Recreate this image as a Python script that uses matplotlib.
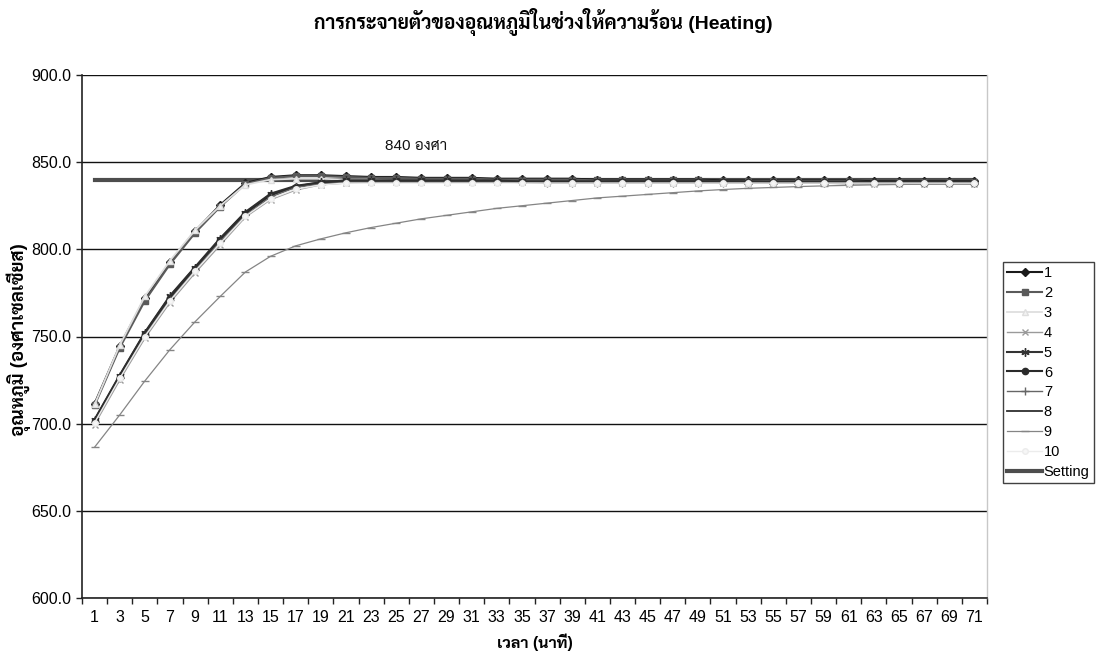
import matplotlib
matplotlib.use("Agg")
import matplotlib.pyplot as plt
import numpy as np

LATIN_THAI = ['Liberation Sans', 'Sarabun', 'Noto Sans Thai', 'DejaVu Sans']
plt.rcParams['font.family'] = LATIN_THAI

# time labels (minutes), one reading every 2 minutes
minutes = [str(m) for m in range(1, 72, 2)]

s1 = [711.5, 744.5, 772.0, 792.5, 810.5, 825.5, 838.0, 841.5, 842.5, 842.5, 842.0, 841.5,
      841.5, 841.0, 841.0, 841.0, 840.5, 840.5, 840.5, 840.5, 840.0, 840.0, 840.0, 840.0,
      840.0, 839.5, 839.5, 839.5, 839.5, 839.5, 839.5, 839.0, 839.0, 839.0, 839.0, 839.0]
s2 = [710.5, 743.5, 770.5, 791.5, 809.5, 824.5, 837.5, 841.0, 842.0, 842.0, 841.5, 841.0,
      841.0, 840.5, 840.5, 840.5, 840.0, 840.0, 840.0, 840.0, 839.5, 839.5, 839.5, 839.5,
      839.5, 839.0, 839.0, 839.0, 839.0, 839.0, 839.0, 838.5, 838.5, 838.5, 838.5, 838.5]
s3 = [711.0, 745.0, 773.0, 793.5, 811.0, 825.0, 837.0, 840.0, 840.5, 840.5, 840.0, 840.0,
      839.5, 839.5, 839.5, 839.5, 839.0, 839.0, 839.0, 839.0, 839.0, 838.5, 838.5, 838.5,
      838.5, 838.5, 838.5, 838.0, 838.0, 838.0, 838.0, 838.0, 838.0, 838.0, 838.0, 838.0]
s4 = [699.5, 725.0, 749.0, 769.5, 786.5, 802.5, 818.5, 828.5, 834.0, 837.0, 838.0, 838.5,
      838.5, 838.5, 838.5, 838.5, 838.5, 838.5, 838.0, 838.0, 838.0, 838.0, 838.0, 838.0,
      838.0, 838.0, 838.0, 838.0, 838.0, 838.0, 837.5, 837.5, 837.5, 837.5, 837.5, 837.5]
s5 = [702.0, 727.5, 752.0, 773.0, 789.5, 806.0, 821.0, 831.5, 836.0, 838.5, 839.5, 839.5,
      839.5, 839.5, 839.5, 839.5, 839.0, 839.0, 839.0, 839.0, 839.0, 839.0, 839.0, 839.0,
      839.0, 839.0, 838.5, 838.5, 838.5, 838.5, 838.5, 838.5, 838.5, 838.5, 838.5, 838.5]
s6 = [701.5, 727.0, 751.5, 772.0, 789.0, 805.5, 820.5, 831.0, 836.0, 838.0, 839.0, 839.0,
      839.0, 839.0, 839.0, 839.0, 839.0, 838.5, 838.5, 838.5, 838.5, 838.5, 838.5, 838.5,
      838.5, 838.5, 838.5, 838.5, 838.5, 838.5, 838.5, 838.5, 838.0, 838.0, 838.0, 838.0]
s7 = [701.0, 726.0, 750.5, 771.0, 788.0, 804.5, 819.5, 830.0, 835.5, 837.5, 838.5, 838.5,
      838.5, 838.5, 838.5, 838.5, 838.5, 838.5, 838.0, 838.0, 838.0, 838.0, 838.0, 838.0,
      838.0, 838.0, 838.0, 838.0, 838.0, 838.0, 838.0, 838.0, 838.0, 838.0, 838.0, 838.0]
s8 = [702.5, 728.0, 752.5, 773.5, 790.0, 806.5, 821.5, 832.0, 836.5, 838.5, 839.5, 839.5,
      839.5, 839.5, 839.5, 839.5, 839.5, 839.0, 839.0, 839.0, 839.0, 839.0, 839.0, 839.0,
      839.0, 839.0, 839.0, 838.5, 838.5, 838.5, 838.5, 838.5, 838.5, 838.5, 838.5, 838.5]
s9 = [686.5, 705.0, 724.5, 742.5, 758.5, 773.0, 787.0, 796.0, 802.0, 806.0, 809.5, 812.5,
      815.0, 817.5, 819.5, 821.5, 823.5, 825.0, 826.5, 828.0, 829.5, 830.5, 831.5, 832.5,
      833.5, 834.3, 835.0, 835.5, 836.0, 836.4, 836.7, 837.0, 837.2, 837.4, 837.5, 837.5]
s10 = [700.5, 726.0, 750.0, 770.5, 787.5, 803.5, 819.0, 829.0, 834.5, 837.0, 838.0, 838.0,
       838.0, 838.0, 838.0, 838.0, 838.0, 838.0, 838.0, 838.0, 838.0, 838.0, 838.0, 838.0,
       838.0, 838.0, 838.0, 838.0, 838.0, 838.0, 838.0, 838.0, 838.0, 838.0, 838.0, 838.0]
setting_temp = 840.0

series_names = ['1', '2', '3', '4', '5', '6', '7', '8', '9', '10']
series_values = [s1, s2, s3, s4, s5, s6, s7, s8, s9, s10]

# grayscale look of the default office palette
styles = [
    dict(color='#1a1a1a', marker='D', ms=4.5, mfc='#1a1a1a', lw=1.5),
    dict(color='#5a5a5a', marker='s', ms=4.5, mfc='#5a5a5a', lw=1.5),
    dict(color='#dedede', marker='^', ms=5, mfc='#f2f2f2', lw=1.3),
    dict(color='#9a9a9a', marker='x', ms=5, mew=1.0, lw=1.0),
    dict(color='#333333', marker=(6, 2, 0), ms=6, mew=1.0, lw=1.5),
    dict(color='#2a2a2a', marker='o', ms=4.5, mfc='#2a2a2a', lw=1.5),
    dict(color='#666666', marker='+', ms=6, mew=1.0, lw=1.0),
    dict(color='#2e2e2e', marker='None', lw=1.3),
    dict(color='#858585', marker='_', ms=6, mew=1.0, lw=0.9),
    dict(color='#ececec', marker='o', ms=4, mfc='#f6f6f6', lw=1.0),
]

fig = plt.figure(figsize=(11, 6.55), dpi=100)
ax = fig.add_axes([82 / 1100, 1 - 598 / 655, 905 / 1100, 523 / 655])

x = np.arange(len(minutes))
handles = []
for name, vals, st in zip(series_names, series_values, styles):
    h, = ax.plot(x, vals, label=name, zorder=3, **st)
    handles.append(h)

hs, = ax.plot(x, [setting_temp] * len(x), color='#4d4d4d', lw=3.0, label='Setting', zorder=2)
handles.append(hs)

ax.text(11.55, 855.0, '840 องศา', fontsize=11, ha='left', va='bottom', color='#111111')

ax.set_xlim(-0.5, len(minutes) - 0.5)
ax.set_ylim(600, 900)
ax.set_yticks(np.arange(600, 901, 50))
ax.set_yticklabels([f'{v:.1f}' for v in np.arange(600, 901, 50)])
ax.yaxis.grid(True, color='#111111', lw=1.0)
ax.set_axisbelow(True)

ax.set_xticks(x)
ax.set_xticklabels(minutes)
ax.set_xticks(np.arange(-0.5, len(minutes)), minor=True)
ax.tick_params(axis='x', which='major', length=0, pad=9, labelsize=11.5)
ax.tick_params(axis='x', which='minor', length=4, width=1.0, color='#222222')
ax.tick_params(axis='y', length=4, width=1.0, color='#222222', labelsize=11.5, pad=4)

for side in ('left', 'bottom'):
    ax.spines[side].set_color('#222222')
    ax.spines[side].set_linewidth(1.2)
ax.spines['top'].set_visible(False)
ax.spines['right'].set_color('#c8c8c8')
ax.spines['right'].set_linewidth(1.0)

fig.text(0.494, 1 - 22 / 655, 'การกระจายตัวของอุณหภูมิในช่วงให้ความร้อน (Heating)',
         ha='center', va='center', fontsize=14, fontweight='bold')
ax.set_xlabel('เวลา (นาที)', fontsize=11.5, fontweight='bold', labelpad=6)
fig.text(19 / 1100, 1 - 340 / 655, 'อุณหภูมิ (องศาเซลเซียส)', rotation=90,
         ha='center', va='center', fontsize=13.5, fontweight='bold')

leg = fig.legend(handles=handles, loc='upper left', bbox_to_anchor=(1003 / 1100, 1 - 262 / 655),
                 fontsize=10.5, frameon=True, fancybox=False, borderpad=0.3, labelspacing=0.4,
                 handlelength=2.4, handletextpad=0.1, borderaxespad=0)
leg.get_frame().set_edgecolor('#111111')
leg.get_frame().set_linewidth(1.0)

fig.savefig('out.png', dpi=100)
